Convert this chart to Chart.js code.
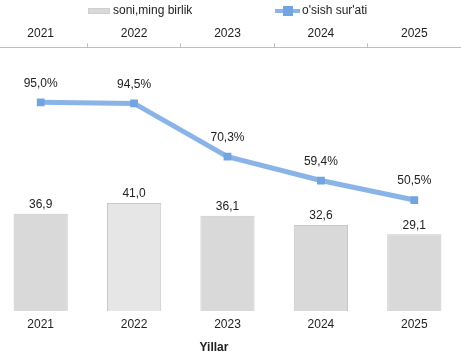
<!DOCTYPE html>
<html>
<head>
<meta charset="utf-8">
<script src="https://cdn.jsdelivr.net/npm/chart.js@4"></script>
<style>
  html, body { margin:0; padding:0; background:#fff; }
  body { width:461px; height:356px; position:relative; overflow:hidden; font-family:"Liberation Sans", Arial, sans-serif; }
  #wrap { position:absolute; left:-6px; top:0; width:467px; height:356px; }
  .leg { position:absolute; top:3px; font-size:12px; color:#222; line-height:14px; white-space:nowrap; }
  .sw-bar { position:absolute; left:88px; top:8px; width:22px; height:6px; background:#d9d9d9; border:1px solid #cfcfcf; box-sizing:border-box; }
  .sw-line { position:absolute; left:275px; top:9px; width:25px; height:4px; background:#8ab4e8; }
  .sw-mark { position:absolute; left:283px; top:6px; width:10px; height:10px; background:#72a4e0; }
  #xt { position:absolute; top:340px; left:214px; transform:translateX(-50%); font-size:12px; font-weight:bold; color:#222; line-height:14px; }
</style>
</head>
<body>
<div id="wrap"><canvas id="c" width="467" height="356"></canvas></div>
<div class="sw-bar"></div><div class="leg" style="left:113px">soni,ming birlik</div>
<div class="sw-line"></div><div class="sw-mark"></div><div class="leg" style="left:302px">o'sish sur'ati</div>
<div id="xt">Yillar</div>
<script>
const years = ['2021', '2022', '2023', '2024', '2025'];
const soni = [36.9, 41.0, 36.1, 32.6, 29.1];
const osish = [95.0, 94.5, 70.3, 59.4, 50.5];
const barLabel = 'soni,ming birlik';
const lineLabel = "o'sish sur'ati";

const fmt = v => v.toFixed(1).replace('.', ',');

const labelPlugin = {
  id: 'vlabels',
  afterDatasetsDraw(chart) {
    const ctx = chart.ctx;
    ctx.save();
    ctx.font = '12px "Liberation Sans", Arial, sans-serif';
    ctx.fillStyle = '#222';
    ctx.textAlign = 'center';
    ctx.textBaseline = 'middle';
    chart.data.datasets.forEach((ds, i) => {
      const meta = chart.getDatasetMeta(i);
      meta.data.forEach((el, j) => {
        const v = ds.data[j];
        if (ds.type === 'line') {
          ctx.fillText(fmt(v) + '%', el.x, el.y - 19);
        } else {
          ctx.fillText(fmt(v), el.x, el.y - 9);
        }
      });
    });
    ctx.restore();
  }
};

new Chart(document.getElementById('c'), {
  type: 'bar',
  data: {
    labels: years,
    datasets: [
      {
        type: 'line',
        label: lineLabel,
        data: osish,
        xAxisID: 'x2',
        yAxisID: 'y2',
        borderColor: '#8ab4e8',
        borderWidth: 5,
        pointStyle: 'rect',
        pointRadius: 5.5,
        pointBackgroundColor: '#72a4e0',
        pointBorderColor: '#72a4e0',
        pointBorderWidth: 0,
        tension: 0,
        order: 0
      },
      {
        type: 'bar',
        label: barLabel,
        data: soni,
        xAxisID: 'x',
        yAxisID: 'y',
        grouped: false,
        backgroundColor: ['#d9d9d9', '#e6e6e6', '#d9d9d9', '#d9d9d9', '#d9d9d9'],
        borderColor: '#c8c8c8',
        borderWidth: 1,
        categoryPercentage: 1,
        barPercentage: 0.58,
        order: 1
      }
    ]
  },
  options: {
    responsive: false,
    animation: false,
    devicePixelRatio: 1,
    layout: { autoPadding: false, padding: { top: 23, bottom: 18.6, left: 0, right: 0 } },
    plugins: { legend: { display: false }, tooltip: { enabled: false } },
    scales: {
      x: {
        position: 'bottom',
        offset: true,
        grid: { display: false, drawTicks: false, tickLength: 0 },
        border: { display: false },
        ticks: { padding: 6, color: '#222', font: { family: '"Liberation Sans", Arial, sans-serif', size: 12 } }
      },
      x2: {
        type: 'category',
        position: 'top',
        labels: years,
        offset: true,
        grid: { offset: true, drawOnChartArea: false, tickLength: 4, color: '#bfbfbf' },
        border: { display: true, color: '#bfbfbf' },
        ticks: { padding: 3, color: '#222', font: { family: '"Liberation Sans", Arial, sans-serif', size: 12 } }
      },
      y: { display: false, min: 0, max: 100 },
      y2: { display: false, min: 0, max: 120 }
    }
  },
  plugins: [labelPlugin]
});
</script>
</body>
</html>
